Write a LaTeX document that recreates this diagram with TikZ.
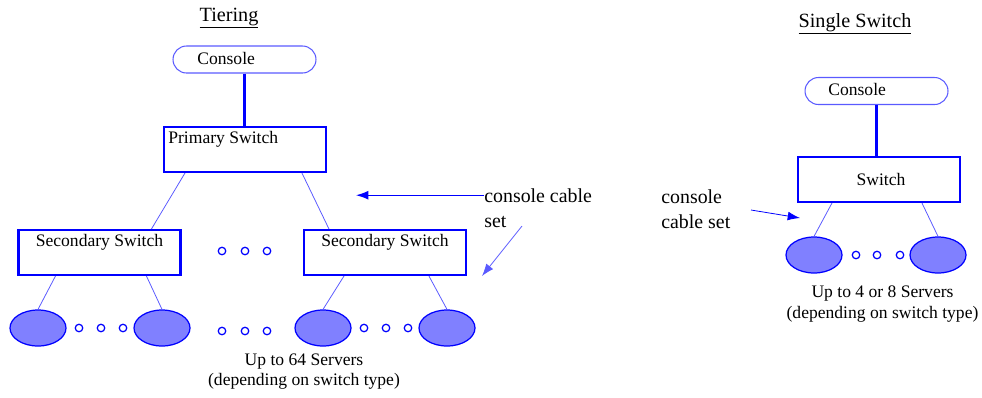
\documentclass[tikz,border=0pt]{standalone}
\usepackage{fontspec}
\setmainfont{Liberation Serif}
\usetikzlibrary{shapes.geometric,arrows.meta,calc}

\definecolor{bleu}{RGB}{0,0,255}
\definecolor{bleuclair}{RGB}{90,90,255}
\definecolor{fondserveur}{RGB}{128,128,255}

\tikzset{
  console/.style={draw=bleuclair, line width=0.6pt, rounded corners=0.27cm,
    minimum width=2.86cm, minimum height=0.54cm, inner sep=0pt},
  switchbox/.style={draw=bleu, line width=1.2pt,
    minimum width=3.24cm, minimum height=0.9cm, inner sep=0pt},
  serveur/.style={ellipse, draw=bleu, fill=fondserveur, line width=0.7pt,
    minimum width=1.12cm, minimum height=0.72cm, inner sep=0pt},
  point/.style={circle, draw=bleu, line width=0.7pt,
    minimum size=0.15cm, inner sep=0pt},
  lien/.style={draw=bleu, line width=1.2pt},
  cable/.style={draw=bleuclair, line width=0.45pt},
  fleche/.style={draw=bleu, line width=0.6pt, -{Latex[length=7pt,width=5pt]}},
  texte/.style={inner sep=0pt, font=\fontsize{10pt}{12pt}\selectfont},
  titre/.style={inner sep=0pt, anchor=base, font=\fontsize{11.5pt}{13pt}\selectfont},
  note/.style={inner sep=0pt, anchor=base west, font=\fontsize{11.3pt}{13pt}\selectfont},
}

\begin{document}
\begin{tikzpicture}[x=0.02cm,y=-0.02cm]

\useasboundingbox (0,0) rectangle (982,397);

% Titres
\node[titre] (titreT)
at (229,21)
{\underline{Tiering}};

\node[titre] (titreS)
at (855,27)
{\underline{Single Switch}};

% Tiering : console et commutateurs
\node[console] (conT) at (244.5,59.5) {};
\node[texte, anchor=base west] (conTtxt)
at (197,64)
{Console};

\node[switchbox] (primT) at (245,149.5) {};
\node[texte, anchor=base west] (primTtxt)
at (168,143)
{Primary Switch};

\node[switchbox] (secG) at (99.5,252.5) {};
\node[texte, anchor=base] (secGtxt)
at (99.5,246)
{Secondary Switch};

\node[switchbox] (secD) at (385,252.5) {};
\node[texte, anchor=base] (secDtxt)
at (385,246)
{Secondary Switch};

\draw[lien]
(conT.south)
--
(conT.south |- primT.north);

\draw[cable]
($(primT.south west)+(22,0)$)
--
($(secG.north west)+(134,0)$);

\draw[cable]
($(primT.south west)+(139,0)$)
--
($(secD.north west)+(26,0)$);

% Tiering : serveurs
\node[serveur] (srvA) at (38,328) {};
\node[serveur] (srvB) at (162,328) {};
\node[serveur] (srvC) at (323,328) {};
\node[serveur] (srvD) at (447,328) {};

\draw[cable] ($(secG.south west)+(38,0)$) -- (srvA.north);
\draw[cable] ($(secG.south west)+(129,0)$) -- (srvB.north);
\draw[cable] ($(secD.south west)+(41,0)$) -- (srvC.north);
\draw[cable] ($(secD.south west)+(126,0)$) -- (srvD.north);

\foreach \x [count=\i] in {222,245,267}
  \node[point] (ptH\i) at (\x,251) {};
\foreach \x [count=\i] in {79,101,123}
  \node[point] (ptG\i) at (\x,328) {};
\foreach \x [count=\i] in {222,245,267}
  \node[point] (ptM\i) at (\x,331) {};
\foreach \x [count=\i] in {364,386,408}
  \node[point] (ptD\i) at (\x,328) {};

\node[texte, anchor=base] (nbT)
at (304,365)
{Up to 64 Servers};
\node[texte, anchor=base] (typeT)
at (304,385)
{(depending on switch type)};

% Tiering : cable console
\node[note] (noteT)
at (484,202)
{console cable};
\node[note] (noteT2)
at (484,227)
{set};

\coordinate (flecheA) at (356,196);
\draw[fleche]
(noteT.west)
--
(noteT.west -| flecheA);

\coordinate (departB) at (522,226);
\coordinate (flecheB) at (482,276);
\draw[fleche, draw=bleuclair, line width=0.45pt]
(departB)
--
(flecheB);

% Single Switch
\node[console] (conS) at (876.5,91) {};
\node[texte, anchor=base west] (conStxt)
at (828,95)
{Console};

\node[switchbox] (sw) at (879,179.5) {};
\node[texte, anchor=base] (swtxt)
at (881,185)
{Switch};

\draw[lien]
(conS.south)
--
(conS.south |- sw.north);

\node[serveur] (srvE) at (814,255) {};
\node[serveur] (srvF) at (938,255) {};

\draw[cable] ($(sw.south west)+(35,0)$) -- (srvE.north);
\draw[cable] ($(sw.south west)+(125,0)$) -- (srvF.north);

\foreach \x [count=\i] in {856,877,900}
  \node[point] (ptS\i) at (\x,255) {};

\node[texte, anchor=base] (nbS)
at (882.5,297)
{Up to 4 or 8 Servers};
\node[texte, anchor=base] (typeS)
at (882.5,318)
{(depending on switch type)};

\node[note] (noteS)
at (661,203)
{console};
\node[note] (noteS2)
at (661,228)
{cable set};

\coordinate (departC) at (751,210);
\coordinate (flecheC) at (800,218);
\draw[fleche, line width=0.45pt]
(departC)
--
(flecheC);

\end{tikzpicture}
\end{document}
